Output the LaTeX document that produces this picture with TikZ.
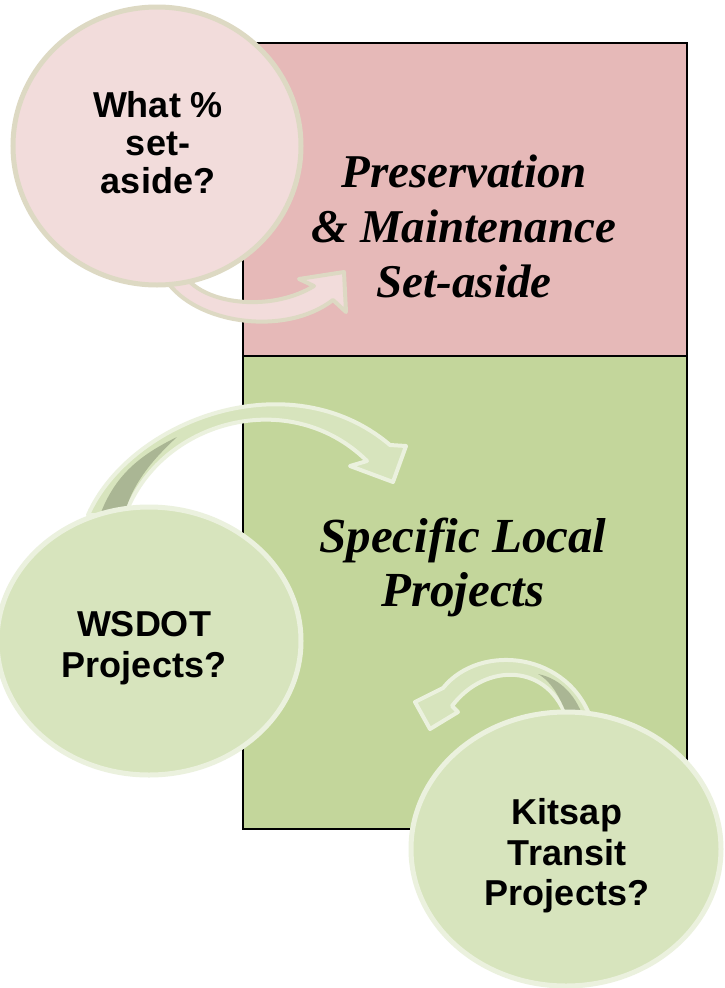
\documentclass[tikz,border=0pt]{standalone}
\usepackage{fontspec}
\setmainfont{Liberation Serif}
\setsansfont{Liberation Sans}
\usetikzlibrary{shapes.geometric}
\definecolor{pinkbox}{HTML}{E6B9B8}
\definecolor{greenbox}{HTML}{C3D69B}
\definecolor{pinkfill}{HTML}{F2DCDB}
\definecolor{pinkedge}{HTML}{DDD9C3}
\definecolor{greenfill}{HTML}{D7E4BD}
\definecolor{greenedge}{HTML}{EBF1DE}
\definecolor{greendark}{HTML}{AAB694}
\begin{document}
\begin{tikzpicture}[x=1pt,y=1pt,
  box/.style={draw=black, line width=2pt},
  bubblepink/.style={ellipse, draw=pinkedge, fill=pinkfill, line width=5pt, inner sep=0pt},
  bubblegreen/.style={ellipse, draw=greenedge, fill=greenfill, line width=5pt, inner sep=0pt},
  arrowpink/.style={fill=pinkfill, draw=pinkedge, line width=4pt, line join=round},
  arrowgreen/.style={fill=greenfill, draw=greenedge, line width=4pt, line join=round},
  qtext/.style={font=\sffamily\bfseries\fontsize{36}{41}\selectfont, align=center, inner sep=0pt},
  ttext/.style={font=\rmfamily\bfseries\itshape\fontsize{47}{55}\selectfont, align=center, inner sep=0pt},
  stext/.style={font=\rmfamily\bfseries\itshape\fontsize{49}{54}\selectfont, align=center, inner sep=0pt}]
\useasboundingbox (0,0) rectangle (725,-988);
\fill[white] (0,0) rectangle (725,-988);

% boxes
\draw[box, fill=pinkbox] (243,-43) rectangle (687,-356);
\draw[box, fill=greenbox] (243,-356) rectangle (687,-829);

% pink arrow
\draw[arrowpink] (166,-280) .. controls (195,-324) and (285,-337) .. (333,-300)
  -- (346,-312) -- (344,-272) -- (299,-279) -- (314,-286)
  .. controls (275,-310) and (215,-306) .. (190,-282) -- cycle;

% WSDOT arrow
\draw[arrowgreen] (88,-515) .. controls (130,-420) and (290,-360) .. (390,-445)
  -- (406,-446) -- (393,-482) -- (350,-466) -- (367,-461)
  .. controls (290,-385) and (160,-420) .. (125,-515) -- cycle;
\fill[greendark] (100,-515) .. controls (115,-475) and (140,-455) .. (177,-437)
  .. controls (150,-462) and (132,-485) .. (124,-515) -- cycle;

% Kitsap arrow
\draw[arrowgreen] (592,-722) .. controls (570,-652) and (480,-642) .. (443,-688)
  -- (415,-702) -- (430,-729) -- (458,-712) -- (452,-706)
  .. controls (485,-662) and (550,-662) .. (568,-722) -- cycle;
\fill[greendark] (570,-722) .. controls (560,-697) and (552,-682) .. (538,-674)
  .. controls (562,-679) and (577,-697) .. (585,-722) -- cycle;

% bubbles
\node[bubblepink, minimum width=288, minimum height=278] (whatb) at (157,-146) {};
\node[bubblegreen, minimum width=304, minimum height=268] (wsdotb) at (149,-641) {};
\node[bubblegreen, minimum width=310, minimum height=274] (kitsapb) at (566,-849) {};

% texts
\node[qtext, font=\sffamily\bfseries\fontsize{36}{38}\selectfont] (whatt) at (158,-143) {What \%\\set-\\aside?};
\node[qtext] (wsdott) at (144,-648) {WSDOT\\Projects?};
\node[qtext, font=\sffamily\bfseries\fontsize{36}{40.5}\selectfont] (kitsapt) at (567,-856) {Kitsap\\Transit\\Projects?};
\node[ttext] (pmt) at (464,-226) {Preservation\\\& Maintenance\\Set-aside};
\node[stext] (slt) at (463,-567) {Specific Local\\Projects};
\end{tikzpicture}
\end{document}
